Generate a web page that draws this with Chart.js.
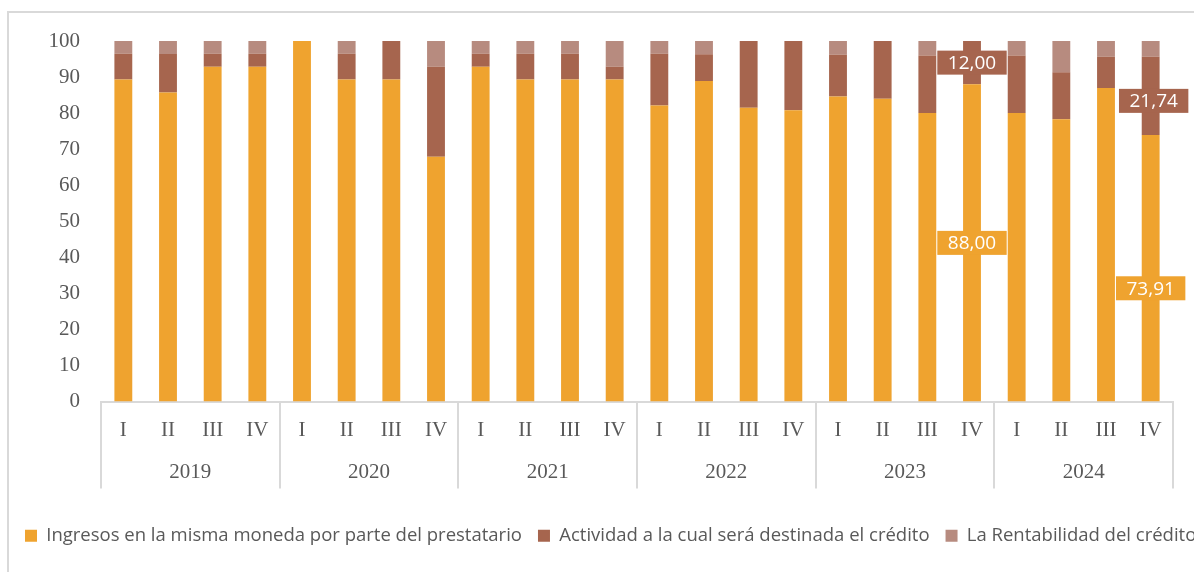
<!DOCTYPE html>
<html>
<head>
<meta charset="utf-8">
<script src="https://cdn.jsdelivr.net/npm/chart.js@4.4.0/dist/chart.umd.min.js"></script>
<style>
  html, body { margin: 0; padding: 0; background: #fff; overflow: hidden; width: 1194px; height: 572px; }
  #marco { position: absolute; left: 7px; top: 11px; width: 1360px; height: 600px;
           border-left: 2px solid #d9d9d9; border-top: 2px solid #d9d9d9; }
  canvas { display: block; }
</style>
</head>
<body>
<div id="marco"><canvas id="grafico" width="1340" height="559"></canvas></div>
<script>
// años y trimestres
const years = ["2019", "2020", "2021", "2022", "2023", "2024"];
const quarters = ["I", "II", "III", "IV"];

// porcentajes por trimestre (2019-I ... 2024-IV)
const ingresos = [89.29, 85.71, 92.86, 92.86, 100, 89.29, 89.29, 67.86, 92.86, 89.29, 89.29, 89.29,
                  82.14, 88.89, 81.48, 80.77, 84.62, 84.00, 80.00, 88.00, 80.00, 78.26, 86.96, 73.91];
const actividad = [7.14, 10.71, 3.57, 3.57, 0, 7.14, 10.71, 25.00, 3.57, 7.14, 7.14, 3.57,
                   14.29, 7.41, 18.52, 19.23, 11.54, 16.00, 16.00, 12.00, 16.00, 13.04, 8.70, 21.74];
const rentabilidad = [3.57, 3.57, 3.57, 3.57, 0, 3.57, 0, 7.14, 3.57, 3.57, 3.57, 7.14,
                      3.57, 3.70, 0, 0, 3.85, 0, 4.00, 0, 4.00, 8.70, 4.35, 4.35];

const seriesNames = ["Ingresos en la misma moneda por parte del prestatario",
                     "Actividad a la cual será destinada el crédito",
                     "La Rentabilidad del crédito"];
const seriesColors = ["#EFA32F", "#A6654E", "#B78B7F"];

// trimestres que llevan etiqueta de datos (2023-IV y 2024-IV)
const labelled = [19, 23];

const quarterLabels = years.flatMap(() => quarters);

const axisFont = { family: "'Liberation Serif', serif", size: 21 };
const gray = "#595959";
const lineGray = "#d9d9d9";

// etiquetas de datos con caja de color
const dataLabels = {
  id: "dataLabels",
  afterDatasetsDraw(chart) {
    const ctx = chart.ctx;
    const nudge = { "0-23": 20, "1-23": 5 };
    ctx.save();
    ctx.font = "19px 'Open Sans'";
    ctx.textAlign = "center";
    ctx.textBaseline = "middle";
    [0, 1].forEach((d) => {
      const meta = chart.getDatasetMeta(d);
      labelled.forEach((i) => {
        const bar = meta.data[i];
        const value = chart.data.datasets[d].data[i];
        const txt = value.toFixed(2).replace(".", ",");
        const w = ctx.measureText(txt).width + 21;
        const h = 24;
        const x = bar.x + (d === 1 && i === 23 ? 3 : 0);
        const y = (bar.y + bar.base) / 2 + (nudge[d + "-" + i] || 0);
        ctx.fillStyle = seriesColors[d];
        ctx.fillRect(x - w / 2, y - h / 2, w, h);
        ctx.fillStyle = "#ffffff";
        ctx.fillText(txt, x, y + 1);
      });
    });
    ctx.restore();
  }
};

new Chart(document.getElementById("grafico"), {
  type: "bar",
  data: {
    labels: quarterLabels,
    datasets: [
      { label: seriesNames[0], data: ingresos, backgroundColor: seriesColors[0] },
      { label: seriesNames[1], data: actividad, backgroundColor: seriesColors[1] },
      { label: seriesNames[2], data: rentabilidad, backgroundColor: seriesColors[2] }
    ]
  },
  options: {
    responsive: false,
    animation: false,
    categoryPercentage: 1,
    barPercentage: 0.4,
    layout: { padding: { top: 28, right: 0, left: 0, bottom: 17 } },
    plugins: {
      tooltip: { enabled: false },
      legend: {
        position: "bottom",
        align: "start",
        labels: {
          boxWidth: 12, boxHeight: 12, padding: 16, color: gray,
          font: { family: "'Open Sans', sans-serif", size: 18.5 }
        }
      }
    },
    scales: {
      x: {
        stacked: true,
        offset: true,
        grid: {
          offset: true,
          drawOnChartArea: false,
          tickLength: 87,
          lineWidth: 2,
          color: (c) => (c.index === undefined || c.index % 4 === 0) ? lineGray : "rgba(0,0,0,0)"
        },
        border: { display: true, color: lineGray, width: 2 },
        ticks: { padding: -71, autoSkip: false, maxRotation: 0, font: axisFont, color: gray },
        afterFit: (s) => { s.height = 40; }
      },
      x2: {
        type: "category",
        labels: years,
        position: "bottom",
        offset: true,
        grid: { display: false },
        border: { display: false },
        ticks: { padding: 10, autoSkip: false, maxRotation: 0, font: axisFont, color: gray },
        afterFit: (s) => { s.height = 69; }
      },
      y: {
        stacked: true,
        min: 0,
        max: 100,
        grid: { display: false },
        border: { display: false },
        ticks: { stepSize: 10, padding: 13, font: axisFont, color: gray },
        afterFit: (s) => { s.width = 92; }
      },
      // eje vacío a la derecha: deja el espacio que en el original queda fuera del recorte
      margen: {
        type: "linear",
        position: "right",
        grid: { display: false },
        border: { display: false },
        ticks: { display: false },
        afterFit: (s) => { s.width = 176; }
      }
    }
  },
  plugins: [dataLabels]
});
</script>
</body>
</html>
